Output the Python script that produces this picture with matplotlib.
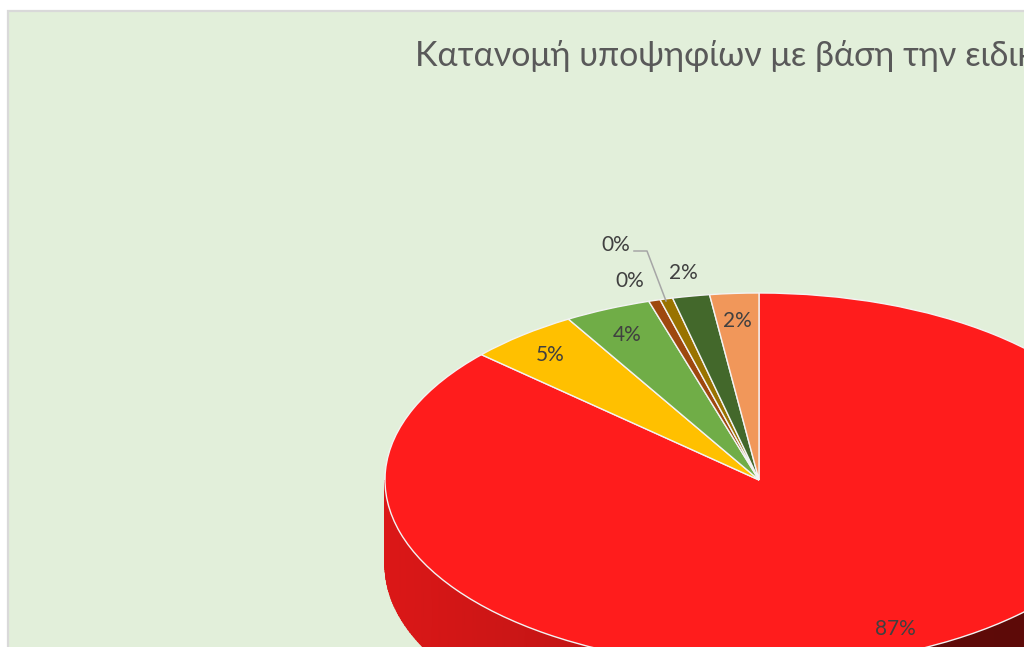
import numpy as np
import matplotlib
matplotlib.use('Agg')
import matplotlib.pyplot as plt
from matplotlib.colors import LinearSegmentedColormap
from matplotlib.patches import Rectangle

plt.rcParams['font.family'] = ['Lato', 'Noto Sans', 'DejaVu Sans']

title = 'Κατανομή υποψηφίων με βάση την ειδικότητα'
# clockwise from 12 o'clock
shares = [86.69, 4.8, 3.75, 0.5, 0.55, 1.6, 2.11]
labels = ['87%', '5%', '4%', '0%', '0%', '2%', '2%']
colors = ['#FF1C1C', '#FFC000', '#70AD47', '#9E480E', '#997300', '#43682B', '#F1975A']
# label centres in reference pixels
label_x = [895, 550, 627, 630, 616, 683, 737]
label_y = [629, 355, 335, 281, 245, 273, 321]

W, H = 1024, 647
cx, cy = 759, 480
rx, ry = 374, 187
depth = 85

fig = plt.figure(figsize=(W / 100, H / 100), dpi=100, facecolor='white')

# background axes in pixel coordinates
bg = fig.add_axes([0, 0, 1, 1])
bg.set_xlim(0, W)
bg.set_ylim(H, 0)
bg.axis('off')
bg.add_patch(Rectangle((8, 11), W, H, facecolor='#E2EFDA', edgecolor='#D9D9D9', linewidth=1.6))

# pie axes, one unit is the radius of the squashed disc
ax = fig.add_axes([0, 0, 1, 1])
ax.patch.set_alpha(0)

# side wall of the disc with a left to right shade
side_cmap = LinearSegmentedColormap.from_list('side', [
    (0.0, '#DB1717'), (0.25, '#C41515'), (0.5, '#961010'), (0.74, '#5F0A08'), (1.0, '#5A0A08')])
t = np.linspace(np.pi, 2 * np.pi, 240)
side_x = np.vstack([np.cos(t), np.cos(t)])
side_y = np.vstack([np.sin(t), np.sin(t) - depth / ry])
ax.pcolormesh(side_x, side_y, (side_x + 1) / 2, cmap=side_cmap, vmin=0, vmax=1, shading='gouraud')

ax.pie(shares, colors=colors, startangle=90, counterclock=False, radius=1,
       wedgeprops={'edgecolor': '#F3F3F3', 'linewidth': 1.0})
ax.set_aspect('auto')
ax.set_xlim(-cx / rx, (W - cx) / rx)
ax.set_ylim((cy - H) / ry, cy / ry)
ax.axis('off')

# text layer on top of the pie
top = fig.add_axes([0, 0, 1, 1])
top.set_xlim(0, W)
top.set_ylim(H, 0)
top.axis('off')
top.patch.set_alpha(0)
for lab, x, y in zip(labels, label_x, label_y):
    top.text(x, y, lab, fontsize=15, color='#404040', ha='center', va='center')
top.plot([634, 647, 666], [251, 251, 301], color='#A6A6A6', linewidth=1.1)
top.text(415, 56, title, fontsize=24.5, color='#595959', ha='left', va='center')

fig.savefig('out.png', dpi=100)
